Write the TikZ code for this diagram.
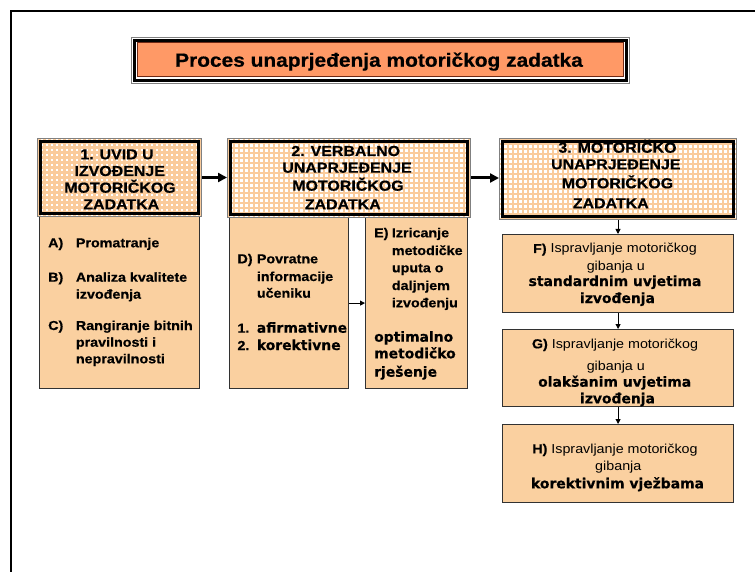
\documentclass[tikz,border=0pt]{standalone}
\usepackage{fontspec}
\setmainfont{Liberation Sans}[FakeStretch=1.1, BoldFeatures={FakeBold=0.6}]
\newfontfamily\widefam{DejaVu Sans}[BoldFeatures={FakeBold=0.5}]
\usetikzlibrary{arrows.meta}
\definecolor{peach}{RGB}{250,208,160}
\definecolor{gridc}{RGB}{250,203,155}
\definecolor{ttlorange}{RGB}{255,153,102}
\definecolor{ttldark}{RGB}{110,40,20}
\definecolor{edgegray}{RGB}{50,50,50}
\newcommand\hdfont{\fontsize{14.5}{17}\selectfont\bfseries}
\newcommand\bdfont{\fontsize{13}{16}\selectfont\bfseries}
\newcommand\rgfont{\fontsize{13}{16}\selectfont}
\newcommand\emfont{\widefam\fontsize{13.9}{16}\selectfont\bfseries}
\newcommand\ttlfont{\fontsize{19}{22}\selectfont\bfseries}
\begin{document}
\begin{tikzpicture}[x=1pt,y=-1pt,
 hdr/.style={draw=gray, line width=1pt, fill=white, inner sep=0, anchor=north west,
   path picture={\draw[gridc, line width=2.1pt] (path picture bounding box.south west) grid[step=5pt] (path picture bounding box.north east);}},
 body/.style={draw=edgegray, line width=1.2pt, fill=peach, inner sep=0, anchor=north west},
 bt/.style={inner sep=0, anchor=base west, font=\bdfont},
 et/.style={inner sep=0, anchor=base west, font=\emfont},
 hc/.style={inner sep=0, anchor=base, font=\hdfont},
 rc/.style={inner sep=0, anchor=base, font=\rgfont},
 ec/.style={inner sep=0, anchor=base, font=\emfont},
 bigarrow/.style={line width=3pt, -{Triangle[length=9pt,width=9pt]}},
 smallarrow/.style={line width=0.9pt, -{Triangle[length=5pt,width=5pt]}},
]
\useasboundingbox (0,0) rectangle (755,572);
\fill[white] (0,0) rectangle (755,572);
% frame
\draw[line width=2pt] (11,572) |- (755,11);

% title
\node[draw=gray, line width=1pt, minimum width=498pt, minimum height=46pt, inner sep=0, anchor=north west] (ttlframe) at (131,37) {};
\draw[line width=3pt] ([shift={(3.5,3.5)}]ttlframe.north west) rectangle ([shift={(-3.5,-3.5)}]ttlframe.south east);
\node[draw=ttldark, fill=ttlorange, line width=1pt, minimum width=486pt, minimum height=34pt, inner sep=0] (ttl) at (380,60) {};
\node[inner sep=0, anchor=base, font=\ttlfont] (ttltext) at (379,66.7) {Proces unaprjeđenja motoričkog zadatka};

% body boxes
\node[body, minimum width=160pt, minimum height=172pt] (b1) at (39,216) {};
\node[body, minimum width=119pt, minimum height=171pt] (b2) at (229,217) {};
\node[body, minimum width=102pt, minimum height=171pt] (b3) at (365,217) {};
\node[body, minimum width=231pt, minimum height=78pt] (b4) at (502,234) {};
\node[body, minimum width=231pt, minimum height=77pt] (b5) at (502,329) {};
\node[body, minimum width=231pt, minimum height=78pt] (b6) at (502,424) {};

% header boxes
\node[hdr, minimum width=164pt, minimum height=78pt] (h1) at (37,138) {};
\node[hdr, minimum width=243pt, minimum height=79pt] (h2) at (227,138) {};
\node[hdr, minimum width=237pt, minimum height=81pt] (h3) at (499,138) {};
\foreach \n in {h1,h2,h3}
  \draw[line width=3pt] ([shift={(3.5,3.5)}]\n.north west) rectangle ([shift={(-3.5,-3.5)}]\n.south east);

% header texts
\node[hc] (h1a) at (117,159.3) {1. UVID U};
\node[hc] (h1b) at (119.7,176) {IZVOĐENJE};
\node[hc] (h1c) at (120,192.7) {MOTORIČKOG};
\node[hc] (h1d) at (121.3,209.3) {ZADATKA};
\node[hc] (h2a) at (345.8,156) {2. VERBALNO};
\node[hc] (h2b) at (347,172.7) {UNAPRJEĐENJE};
\node[hc] (h2c) at (348,190.7) {MOTORIČKOG};
\node[hc] (h2d) at (342.8,209.3) {ZADATKA};
\node[hc] (h3a) at (617.5,152.7) {3. MOTORIČKO};
\node[hc] (h3b) at (615.8,169.3) {UNAPRJEĐENJE};
\node[hc] (h3c) at (617.5,188.3) {MOTORIČKOG};
\node[hc] (h3d) at (610.8,208.3) {ZADATKA};

% box 1 texts
\node[bt] (ta) at (48,247.3) {A)};
\node[bt] (ta2) at (75.7,247.3) {Promatranje};
\node[bt] (tb) at (48,281.7) {B)};
\node[bt] (tb2) at (75.7,281.7) {Analiza kvalitete};
\node[bt] (tb3) at (75.7,298.7) {izvođenja};
\node[bt] (tc) at (48,330) {C)};
\node[bt] (tc2) at (75.7,330) {Rangiranje bitnih};
\node[bt] (tc3) at (75.7,346.7) {pravilnosti i};
\node[bt] (tc4) at (75.7,363.3) {nepravilnosti};

% D texts
\node[bt] (td) at (237.3,263.3) {D)};
\node[bt] (td2) at (256.7,263.3) {Povratne};
\node[bt] (td3) at (256.7,281) {informacije};
\node[bt] (td4) at (256.7,297.7) {učeniku};
\node[bt] (td5) at (237.3,332.7) {1.};
\node[et] (td6) at (256.7,332.7) {afirmativne};
\node[bt] (td7) at (237.3,350) {2.};
\node[et] (td8) at (256.7,350) {korektivne};

% E texts
\node[bt] (te) at (374,237.3) {E)};
\node[bt] (te2) at (391.7,237.3) {Izricanje};
\node[bt] (te3) at (391.7,255) {metodičke};
\node[bt] (te4) at (391.7,272.3) {uputa o};
\node[bt] (te5) at (391.7,290) {daljnjem};
\node[bt] (te6) at (391.7,307.3) {izvođenju};
\node[et] (te7) at (374,341.7) {optimalno};
\node[et] (te8) at (374,358.3) {metodičko};
\node[et] (te9) at (374,376.7) {rješenje};

% F texts
\node[rc] (tf1) at (615,253) {\textbf{F)} Ispravljanje motoričkog};
\node[rc] (tf2) at (615.8,270) {gibanja u};
\node[ec] (tf3) at (615,286) {standardnim uvjetima};
\node[ec] (tf4) at (617.5,303) {izvođenja};
% G texts
\node[rc] (tg1) at (615,348.3) {\textbf{G)} Ispravljanje motoričkog};
\node[rc] (tg2) at (615.8,370) {gibanja u};
\node[ec] (tg3) at (614.7,386.7) {olakšanim uvjetima};
\node[ec] (tg4) at (617.5,403.3) {izvođenja};
% H texts
\node[rc] (th1) at (615,453.3) {\textbf{H)} Ispravljanje motoričkog};
\node[rc] (th2) at (618.3,470.7) {gibanja};
\node[ec] (th3) at (617.5,488.3) {korektivnim vježbama};

% connectors
\draw[bigarrow] (h1.east) -- (h1.east -| h2.west);
\draw[bigarrow] (h2.east) -- (h2.east -| h3.west);
\draw[smallarrow] (b2.east) -- (b2.east -| b3.west);
\draw[smallarrow] (h3.south) -- (h3.south |- b4.north);
\draw[smallarrow] (b4.south) -- (b5.north);
\draw[smallarrow] (b5.south) -- (b6.north);
\end{tikzpicture}
\end{document}
